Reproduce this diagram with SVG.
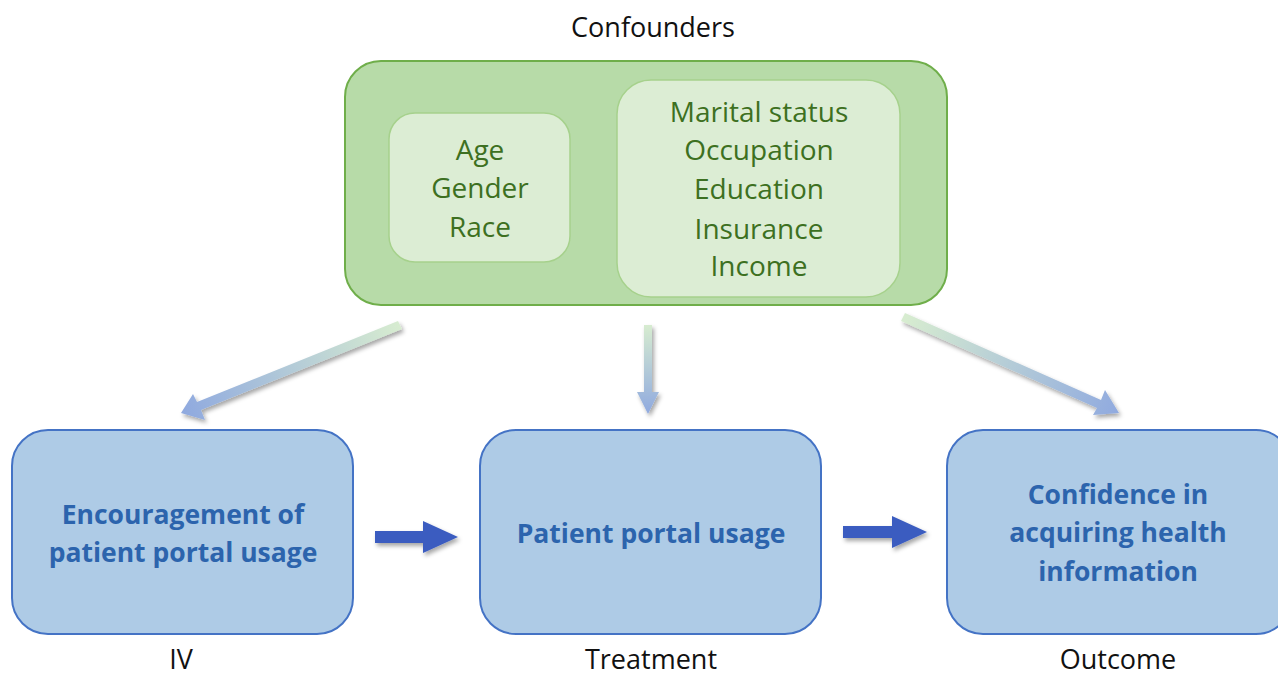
<svg xmlns="http://www.w3.org/2000/svg" width="1278" height="677" viewBox="0 0 1278 677">
<defs>
<style>
.lbl{font-family:"Open Sans","Liberation Sans",sans-serif;font-size:27px;fill:#111;text-anchor:middle}
.gt{font-family:"Open Sans","Liberation Sans",sans-serif;font-size:28px;fill:#3d7021;text-anchor:middle}
.bt{font-family:"Open Sans","Liberation Sans",sans-serif;font-size:26.5px;font-weight:bold;fill:#2c64ad;text-anchor:middle}
.outer{fill:#b7dba8;stroke:#6fae4a;stroke-width:2}
.inner{fill:#dcedd4;stroke:#a6d18c;stroke-width:1.5}
.node{fill:#aecbe6;stroke:#4473c5;stroke-width:2}
.harrow{fill:#3a5cc0}
</style>
<linearGradient id="g1" gradientUnits="userSpaceOnUse" x1="400" y1="325" x2="185" y2="413"><stop offset="0" stop-color="#d7ecd0"/><stop offset="1" stop-color="#90aadf"/></linearGradient>
<linearGradient id="g2" gradientUnits="userSpaceOnUse" x1="648" y1="325" x2="648" y2="413"><stop offset="0" stop-color="#d7ecd0"/><stop offset="1" stop-color="#90aadf"/></linearGradient>
<linearGradient id="g3" gradientUnits="userSpaceOnUse" x1="903" y1="325" x2="1118" y2="415"><stop offset="0" stop-color="#d7ecd0"/><stop offset="1" stop-color="#90aadf"/></linearGradient>
<filter id="sh" x="-20%" y="-20%" width="140%" height="140%"><feDropShadow dx="2" dy="3" stdDeviation="2" flood-color="#000" flood-opacity="0.35"/></filter>
</defs>
<rect width="1278" height="677" fill="#fff"/>
<text class="lbl" x="653" y="37">Confounders</text>
<g id="confounders">
<rect class="outer" x="345" y="61" width="602" height="244" rx="36"/>
<g id="demographics">
<rect class="inner" x="389" y="113" width="181" height="149" rx="26"/>
<text class="gt" x="480" y="160">Age</text>
<text class="gt" x="480" y="198">Gender</text>
<text class="gt" x="480" y="237">Race</text>
</g>
<g id="socioeconomic">
<rect class="inner" x="617" y="80" width="283" height="217" rx="34"/>
<text class="gt" x="759" y="122">Marital status</text>
<text class="gt" x="759" y="160">Occupation</text>
<text class="gt" x="759" y="199">Education</text>
<text class="gt" x="759" y="239">Insurance</text>
<text class="gt" x="759" y="276">Income</text>
</g>
</g>
<g id="connectors">
<g filter="url(#sh)">
<polygon fill="url(#g1)" points="398,321 402,329 201,410 205,420 181,413 193,394 197,402"/>
<polygon fill="url(#g2)" points="644,325 652,325 652,392 659,392 648,414 637,392 644,392"/>
<polygon fill="url(#g3)" points="901,321 905,313 1101,400 1105,390 1119,413 1093,415 1097,408"/>
<polygon class="harrow" points="375,531 423,531 423,521 458,537 423,553 423,543 375,543"/>
<polygon class="harrow" points="843,526 892,526 892,516 927,532 892,548 892,538 843,538"/>
</g>
</g>
<g id="iv">
<rect class="node" x="12" y="430" width="341" height="204" rx="36"/>
<text class="bt" x="183" y="524">Encouragement of</text>
<text class="bt" x="183" y="562">patient portal usage</text>
<text class="lbl" x="181" y="669">IV</text>
</g>
<g id="treatment">
<rect class="node" x="480" y="430" width="341" height="204" rx="36"/>
<text class="bt" x="651" y="543">Patient portal usage</text>
<text class="lbl" x="651" y="669">Treatment</text>
</g>
<g id="outcome">
<rect class="node" x="947" y="430" width="345" height="204" rx="36"/>
<text class="bt" x="1118" y="504">Confidence in</text>
<text class="bt" x="1118" y="542">acquiring health</text>
<text class="bt" x="1118" y="581">information</text>
<text class="lbl" x="1118" y="669">Outcome</text>
</g>
</svg>
